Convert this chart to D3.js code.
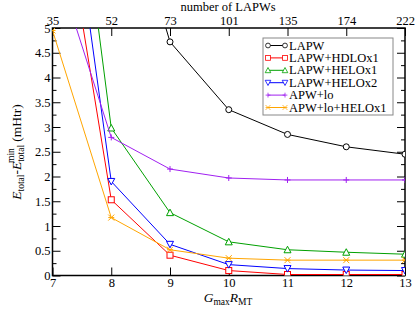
<!DOCTYPE html>
<html>
<head>
<meta charset="utf-8">
<script src="https://cdn.jsdelivr.net/npm/d3@7"></script>
<style>
  body { margin: 0; background: #fff; }
  svg text { font-family: "Liberation Serif", "Times New Roman", Tinos, "DejaVu Serif", serif; }
</style>
</head>
<body>
<svg id="chart" width="415" height="311"></svg>
<script>
// chart data
const gmaxR = [7, 8, 9, 10, 11, 12, 13];
const nLapw = [35, 52, 73, 101, 135, 174, 222];

const lapw        = [null, 8.7, 4.72, 3.35, 2.85, 2.6, 2.45];
const lapwHdlo1   = [8.8, 1.53, 0.41, 0.10, 0.02, 0.02, 0.02];
const lapwHelo1   = [12.2, 2.98, 1.27, 0.68, 0.52, 0.47, 0.43];
const lapwHelo2   = [10.5, 1.90, 0.63, 0.22, 0.14, 0.11, 0.10];
const apwLo       = [6.5, 2.79, 2.15, 1.97, 1.93, 1.93, 1.93];
const apwLoHelo1  = [4.95, 1.17, 0.52, 0.35, 0.31, 0.31, 0.31];

const series = [
  { name: "LAPW", values: lapw, color: "#000000", marker: "circle" },
  { name: "LAPW+HDLOx1", values: lapwHdlo1, color: "#ff0000", marker: "square" },
  { name: "LAPW+HELOx1", values: lapwHelo1, color: "#00a000", marker: "triUp" },
  { name: "LAPW+HELOx2", values: lapwHelo2, color: "#0000ff", marker: "triDown" },
  { name: "APW+lo", values: apwLo, color: "#a020f0", marker: "plus" },
  { name: "APW+lo+HELOx1", values: apwLoHelo1, color: "#ffa500", marker: "cross" }
];

const svg = d3.select("#chart");
const pLeft = 52.5, pRight = 405, pTop = 28, pBottom = 275.5;

const x = d3.scaleLinear().domain([7, 13]).range([pLeft, pRight]);
const y = d3.scaleLinear().domain([0, 5]).range([pBottom, pTop]);

// clip for the lines
svg.append("defs").append("clipPath").attr("id", "plotClip")
  .append("rect").attr("x", pLeft).attr("y", pTop)
  .attr("width", pRight - pLeft).attr("height", pBottom - pTop);

// axes, ticks inward
const axisStyle = g => {
  g.attr("font-family", null);
  g.select(".domain").remove();
  g.selectAll("text").attr("font-size", 12.5).attr("fill", "#000");
  g.selectAll("line").attr("stroke", "#000");
};

svg.append("g").attr("transform", `translate(0,${pBottom})`)
  .call(d3.axisBottom(x).ticks(6).tickSize(-8).tickPadding(5).tickFormat(d3.format("d")))
  .call(axisStyle)
  .call(g => g.selectAll("text").attr("dy", "0.71em").attr("y", 3));

svg.append("g").attr("transform", `translate(0,${pTop})`)
  .call(d3.axisTop(x).tickValues(gmaxR).tickSize(-8).tickPadding(3)
    .tickFormat((d, i) => nLapw[i]))
  .call(axisStyle)
  .call(g => g.selectAll("text").attr("y", -3));

const yMajor = d3.range(0, 5.01, 0.5);
const yMinor = d3.range(0.25, 5, 0.5);
svg.append("g").attr("transform", `translate(${pLeft},0)`)
  .call(d3.axisLeft(y).tickValues(yMajor).tickSize(-8).tickPadding(4)
    .tickFormat(d3.format("~g")))
  .call(axisStyle)
  .call(g => g.selectAll("text").attr("x", -2));
svg.append("g").attr("transform", `translate(${pLeft},0)`)
  .call(d3.axisLeft(y).tickValues(yMinor).tickSize(-4).tickFormat(""))
  .call(axisStyle);
svg.append("g").attr("transform", `translate(${pRight},0)`)
  .call(d3.axisRight(y).tickValues(yMajor).tickSize(-8).tickFormat(""))
  .call(axisStyle);
svg.append("g").attr("transform", `translate(${pRight},0)`)
  .call(d3.axisRight(y).tickValues(yMinor).tickSize(-4).tickFormat(""))
  .call(axisStyle);

// frame
svg.append("rect").attr("x", pLeft).attr("y", pTop)
  .attr("width", pRight - pLeft).attr("height", pBottom - pTop)
  .attr("fill", "none").attr("stroke", "#000").attr("stroke-width", 1.5);

// axis titles
svg.append("text").attr("x", 228).attr("y", 11).attr("text-anchor", "middle")
  .attr("font-size", 12.5).text("number of LAPWs");

const xt = svg.append("text").attr("x", 228).attr("y", 302)
  .attr("text-anchor", "middle").attr("font-size", 13.5);
xt.append("tspan").attr("font-style", "italic").text("G");
xt.append("tspan").attr("font-size", 9.5).attr("dy", 3).text("max");
xt.append("tspan").attr("font-style", "italic").attr("dy", -3).text("R");
xt.append("tspan").attr("font-size", 9.5).attr("dy", 3).text("MT");

const yt = svg.append("text").attr("transform", "translate(21,152) rotate(-90)")
  .attr("text-anchor", "middle").attr("font-size", 13.5);
yt.append("tspan").attr("font-style", "italic").text("E");
yt.append("tspan").attr("font-size", 9.5).attr("dy", 3).text("total");
yt.append("tspan").attr("dy", -3).text("-");
yt.append("tspan").attr("font-style", "italic").text("E");
yt.append("tspan").attr("font-size", 9.5).attr("dy", 3).text("total");
yt.append("tspan").attr("font-size", 9.5).attr("dy", -10).attr("dx", -18).text("min");
yt.append("tspan").attr("dy", 7).attr("dx", 3).text(" (mHtr)");

// markers
function drawMarker(g, type, color) {
  const s = 3;
  if (type === "circle") {
    g.append("circle").attr("r", s).attr("fill", "#fff").attr("stroke", color);
  } else if (type === "square") {
    g.append("rect").attr("x", -s).attr("y", -s).attr("width", 2 * s).attr("height", 2 * s)
      .attr("fill", "#fff").attr("stroke", color);
  } else if (type === "triUp") {
    g.append("path").attr("d", `M0,${-s - 0.5}L${s + 0.5},${s}L${-s - 0.5},${s}Z`)
      .attr("fill", "#fff").attr("stroke", color);
  } else if (type === "triDown") {
    g.append("path").attr("d", `M0,${s + 0.5}L${s + 0.5},${-s}L${-s - 0.5},${-s}Z`)
      .attr("fill", "#fff").attr("stroke", color);
  } else if (type === "plus") {
    g.append("path").attr("d", `M${-s},0H${s}M0,${-s}V${s}`).attr("stroke", color);
  } else if (type === "cross") {
    g.append("path").attr("d", `M${-s},${-s}L${s},${s}M${-s},${s}L${s},${-s}M${-s},0H${s}`)
      .attr("stroke", color);
  }
}

const plot = svg.append("g").attr("clip-path", "url(#plotClip)");
const line = d3.line().defined(d => d[1] != null)
  .x(d => x(d[0])).y(d => y(d[1]));

series.forEach(s => {
  const pts = gmaxR.map((v, i) => [v, s.values[i]]);
  plot.append("path").datum(pts).attr("d", line)
    .attr("fill", "none").attr("stroke", s.color).attr("stroke-width", 1);
  pts.filter(p => p[1] != null && p[1] <= 5.05).forEach(p => {
    const g = plot.append("g").attr("transform", `translate(${x(p[0])},${y(p[1])})`);
    drawMarker(g, s.marker, s.color);
  });
});

// legend
const legend = svg.append("g").attr("transform", "translate(263,38)");
legend.append("rect").attr("width", 130).attr("height", 77)
  .attr("fill", "#fff").attr("stroke", "#888").attr("stroke-width", 1);
series.forEach((s, i) => {
  const yy = 7.5 + i * 12.4;
  legend.append("line").attr("x1", 5).attr("x2", 22).attr("y1", yy).attr("y2", yy)
    .attr("stroke", s.color);
  [5, 22].forEach(xx => {
    const g = legend.append("g").attr("transform", `translate(${xx},${yy}) scale(0.8)`);
    drawMarker(g, s.marker, s.color);
  });
  legend.append("text").attr("x", 26).attr("y", yy + 4).attr("font-size", 12.5).text(s.name);
});
</script>
</body>
</html>
